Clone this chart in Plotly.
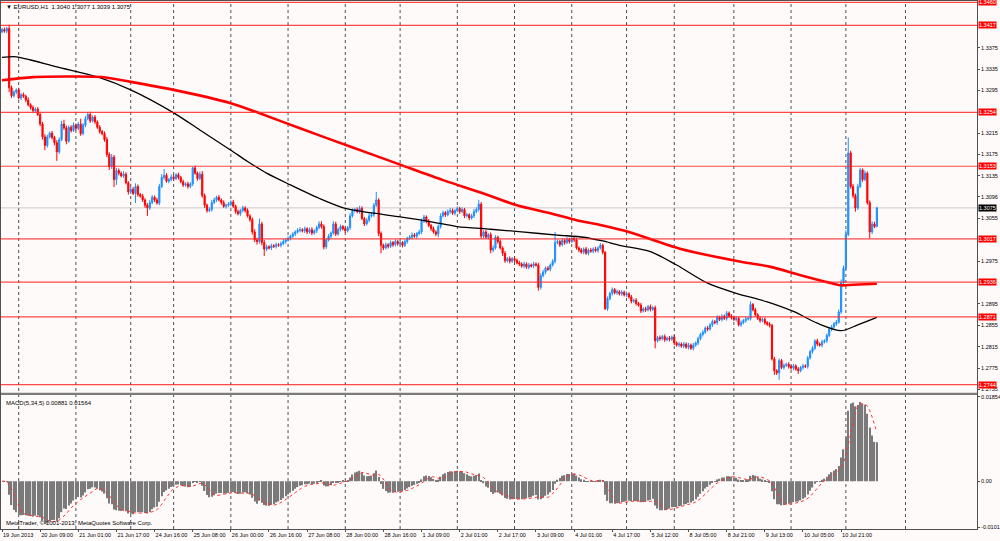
import plotly.graph_objects as go
from plotly.subplots import make_subplots

# EURUSD H1, 19 Jun - 11 Jul 2013. Prices in pips above 1.0000 (3075 -> 1.3075)
first_open = 3405
closes = [
    3409, 3406, 3411, 3300, 3285, 3292, 3296, 3281, 3287, 3284, 3277, 3268, 3263, 3257, 3260, 3250,
    3232, 3208, 3192, 3208, 3215, 3207, 3197, 3180, 3203, 3232, 3225, 3200, 3226, 3220, 3230, 3224,
    3232, 3214, 3230, 3242, 3250, 3238, 3245, 3236, 3226, 3218, 3214, 3203, 3175, 3152, 3170, 3128,
    3145, 3140, 3135, 3138, 3122, 3105, 3110, 3102, 3115, 3100, 3097, 3090, 3080, 3075, 3085, 3095,
    3090, 3084, 3115, 3132, 3136, 3125, 3128, 3133, 3130, 3137, 3132, 3124, 3118, 3120, 3115, 3120,
    3150, 3140, 3130, 3138, 3098, 3080, 3070, 3072, 3085, 3090, 3095, 3090, 3085, 3078, 3080, 3082,
    3086, 3078, 3068, 3064, 3070, 3075, 3070, 3060, 3053, 3030, 3015, 3012, 3045, 3010, 2998, 3002,
    3000, 3004, 3003, 3006, 3005, 3008, 3012, 3015, 3018, 3022, 3026, 3030, 3033, 3034, 3032, 3036,
    3030, 3034, 3028, 3032, 3038, 3045, 3040, 3002, 3015, 3022, 3028, 3045, 3026, 3035, 3040, 3036,
    3032, 3038, 3060, 3070, 3072, 3068, 3074, 3055, 3045, 3052, 3060, 3062, 3080, 3090, 3027, 3005,
    3000, 3006, 3003, 3010, 3006, 3012, 3008, 3010, 3005, 3012, 3018, 3020, 3024, 3022, 3027, 3030,
    3050, 3058, 3050, 3042, 3036, 3030, 3026, 3040, 3060, 3066, 3062, 3068, 3070, 3065, 3070, 3074,
    3068, 3072, 3060, 3062, 3056, 3060, 3068, 3072, 3082, 3022, 3030, 3020, 3025, 2996, 3000, 3020,
    3012, 3000, 2990, 2976, 2980, 2975, 2980, 2977, 2972, 2970, 2966, 2970, 2964, 2968, 2966, 2970,
    2968, 2926, 2948, 2955, 2962, 2960, 2968, 2975, 3010, 3012, 3006, 3014, 3010, 3016, 3012, 3018,
    3015, 3000, 2996, 2992, 2998, 2990, 2996, 2994, 2998, 2995, 3000, 3005, 2992, 2886, 2905, 2915,
    2922, 2916, 2918, 2914, 2917, 2912, 2914, 2908, 2900, 2902, 2896, 2893, 2882, 2886, 2884, 2890,
    2885, 2888, 2826, 2832, 2830, 2834, 2828, 2831, 2829, 2833, 2822, 2818, 2820, 2816, 2820, 2814,
    2818, 2812, 2818, 2822, 2830, 2838, 2842, 2850, 2848, 2856, 2862, 2860, 2870, 2866, 2872, 2868,
    2878, 2872, 2870, 2866, 2868, 2856, 2860, 2864, 2867, 2868, 2894, 2884, 2875, 2868, 2864, 2866,
    2860, 2857, 2855, 2792, 2770, 2766, 2789, 2776, 2780, 2782, 2778, 2775, 2779, 2773, 2770, 2776,
    2779, 2778, 2794, 2806, 2812, 2826, 2820, 2818, 2824, 2826, 2836, 2848, 2852, 2858, 2861, 2880,
    2935, 2962, 3025, 3178, 3115, 3098, 3075, 3115, 3146, 3128, 3140, 3085, 3030, 3045, 3040, 3075,
]
# wick length above / below the candle body, pips
wick_up = [
    3, 4, 3, 7, 4, 3, 3, 4, 3, 4, 3, 5, 3, 4, 3, 4,
    3, 4, 5, 4, 3, 4, 3, 5, 4, 6, 8, 4, 3, 4, 5, 3,
    4, 10, 4, 5, 4, 5, 3, 4, 3, 4, 3, 4, 5, 4, 6, 4,
    5, 4, 3, 6, 4, 3, 5, 4, 6, 4, 3, 4, 3, 4, 5, 4,
    3, 4, 5, 6, 12, 4, 3, 5, 4, 3, 4, 3, 4, 3, 4, 3,
    2, 4, 3, 5, 6, 4, 3, 4, 5, 4, 3, 4, 3, 4, 3, 4,
    3, 4, 3, 4, 3, 4, 3, 4, 3, 4, 5, 4, 10, 4, 5, 4,
    3, 4, 3, 4, 3, 4, 5, 3, 4, 3, 4, 3, 4, 5, 3, 4,
    3, 4, 5, 3, 4, 5, 5, 4, 3, 4, 3, 5, 4, 3, 4, 3,
    4, 3, 5, 4, 3, 4, 5, 4, 3, 4, 5, 4, 4, 15, 3, 4,
    3, 4, 3, 4, 3, 4, 3, 4, 3, 4, 3, 4, 5, 4, 3, 4,
    5, 4, 3, 4, 3, 4, 3, 4, 5, 4, 3, 4, 5, 4, 3, 4,
    3, 4, 3, 4, 3, 4, 5, 4, 8, 4, 3, 4, 3, 4, 5, 4,
    3, 4, 3, 4, 3, 4, 3, 4, 3, 4, 3, 4, 3, 4, 3, 4,
    3, 4, 5, 4, 3, 4, 3, 4, 20, 4, 3, 4, 3, 4, 3, 4,
    3, 4, 3, 4, 3, 4, 3, 4, 3, 4, 3, 4, 3, 2, 4, 3,
    4, 3, 4, 3, 4, 3, 4, 3, 4, 3, 4, 3, 4, 3, 4, 3,
    4, 3, 4, 3, 4, 3, 4, 3, 4, 3, 4, 3, 4, 3, 4, 3,
    4, 3, 4, 3, 4, 3, 4, 3, 4, 3, 4, 3, 4, 3, 4, 3,
    4, 3, 4, 3, 4, 3, 4, 3, 4, 3, 6, 3, 4, 3, 4, 3,
    4, 3, 4, 3, 4, 3, 4, 3, 4, 3, 4, 3, 4, 3, 4, 3,
    4, 3, 4, 3, 4, 3, 4, 3, 4, 3, 4, 3, 4, 3, 4, 5,
    6, 5, 8, 29, 4, 5, 4, 5, 4, 3, 5, 3, 4, 5, 4, 2,
]
wick_dn = [
    3, 3, 4, 8, 4, 3, 4, 3, 4, 3, 4, 3, 4, 3, 4, 3,
    4, 5, 9, 4, 3, 4, 5, 17, 4, 3, 4, 6, 3, 4, 3, 4,
    3, 4, 3, 4, 3, 4, 3, 4, 3, 4, 3, 4, 5, 6, 4, 14,
    10, 4, 3, 4, 3, 5, 4, 3, 18, 4, 3, 4, 5, 15, 4, 3,
    4, 3, 4, 3, 4, 3, 4, 3, 4, 3, 4, 3, 4, 3, 4, 3,
    4, 3, 4, 3, 4, 5, 4, 3, 4, 3, 4, 3, 4, 3, 4, 3,
    4, 3, 4, 3, 4, 3, 4, 3, 4, 5, 4, 6, 4, 5, 13, 4,
    3, 4, 3, 4, 3, 4, 3, 4, 3, 4, 3, 4, 3, 4, 3, 4,
    4, 3, 4, 3, 4, 3, 4, 5, 4, 3, 4, 3, 4, 3, 4, 3,
    4, 3, 4, 3, 4, 3, 4, 3, 4, 3, 4, 3, 4, 3, 5, 15,
    4, 3, 4, 3, 4, 3, 4, 3, 4, 3, 4, 3, 4, 3, 4, 3,
    4, 3, 4, 3, 4, 3, 4, 6, 4, 3, 4, 3, 4, 3, 4, 3,
    4, 3, 4, 3, 4, 3, 4, 3, 4, 5, 4, 3, 4, 6, 4, 3,
    4, 3, 5, 4, 3, 4, 3, 4, 3, 4, 3, 4, 3, 4, 3, 4,
    3, 6, 4, 3, 4, 3, 4, 3, 4, 3, 4, 3, 4, 3, 4, 3,
    4, 3, 4, 3, 4, 3, 4, 3, 4, 3, 4, 3, 4, 2, 4, 3,
    4, 3, 4, 3, 4, 3, 4, 3, 4, 3, 4, 3, 4, 3, 4, 3,
    4, 3, 14, 3, 4, 3, 4, 3, 4, 3, 4, 3, 4, 3, 4, 3,
    4, 3, 4, 3, 4, 3, 4, 3, 4, 3, 4, 3, 4, 3, 4, 3,
    4, 3, 4, 3, 4, 3, 4, 3, 4, 3, 4, 3, 4, 3, 4, 3,
    4, 3, 4, 3, 8, 4, 13, 3, 4, 3, 4, 3, 4, 3, 6, 3,
    4, 3, 4, 3, 4, 3, 4, 3, 4, 3, 4, 3, 4, 3, 4, 3,
    4, 3, 4, 3, 4, 5, 7, 4, 3, 4, 3, 4, 12, 4, 3, 1,
]

# moving averages (bar index, pips)
ma_black_bar = [0, 6, 12, 23, 41, 54, 72, 83, 96, 103, 111, 121, 133, 144, 156, 167, 180, 191,
                205, 218, 233, 244, 252, 259, 272, 283, 296, 308, 321, 332, 342, 352, 359, 367]
ma_black = [3357, 3358, 3352, 3339, 3319, 3296, 3253, 3221, 3183, 3162, 3140, 3118, 3093, 3074,
            3065, 3058, 3049, 3040, 3035, 3030, 3024, 3020, 3013, 3005, 2993, 2968, 2934, 2915,
            2899, 2881, 2859, 2845, 2856, 2870]
ma_red_bar = [0, 13, 27, 42, 54, 72, 96, 107, 125, 146, 167, 185, 202, 216, 230, 241, 251, 263,
              284, 310, 322, 335, 347, 352, 357, 367]
ma_red = [3314, 3320, 3321, 3320, 3311, 3296, 3271, 3254, 3224, 3190, 3156, 3127, 3102, 3080,
          3065, 3052, 3043, 3030, 2999, 2974, 2965, 2949, 2935, 2930, 2931, 2933]

levels = [1.3460, 1.3417, 1.3254, 1.3153, 1.3017, 1.2936, 1.2871, 1.2744]

price_ticks = [1.3375, 1.3335, 1.3295, 1.3215, 1.3175, 1.3135, 1.3096, 1.3055,
               1.2975, 1.2895, 1.2855, 1.2815, 1.2775, 1.2735]

time_labels = ["19 Jun 2013", "20 Jun 09:00", "21 Jun 01:00", "21 Jun 17:00", "24 Jun 16:00",
               "25 Jun 08:00", "26 Jun 00:00", "26 Jun 16:00", "27 Jun 08:00", "28 Jun 00:00",
               "28 Jun 16:00", "1 Jul 09:00", "2 Jul 01:00", "2 Jul 17:00", "3 Jul 09:00",
               "4 Jul 01:00", "4 Jul 17:00", "5 Jul 12:00", "8 Jul 05:00", "8 Jul 21:00",
               "9 Jul 13:00", "10 Jul 05:00", "10 Jul 21:00"]
label_step = 16
day_start_bars = [7, 31, 54, 72, 96, 120, 144, 167, 191, 215, 239, 262, 282, 307, 331, 354, 379]


def px(v):
    return 1 + v / 10000.0


bars = list(range(len(closes)))
opens = [first_open] + closes[:-1]
highs = [max(o, c) + w for o, c, w in zip(opens, closes, wick_up)]
lows = [min(o, c) - w for o, c, w in zip(opens, closes, wick_dn)]

# MACD(5,34,5) from the closes, signal = SMA of MACD as in MetaTrader
def ema(vals, n):
    k = 2.0 / (n + 1)
    out = [vals[0]]
    for v in vals[1:]:
        out.append(out[-1] + k * (v - out[-1]))
    return out

cl = [px(c) for c in closes]
macd = [a - b for a, b in zip(ema(cl, 5), ema(cl, 34))]
signal = [sum(macd[max(0, i - 4):i + 1]) / len(macd[max(0, i - 4):i + 1]) for i in range(len(macd))]

BG = "#fffafa"
FONT = "Liberation Sans"
FS = 5.5

fig = make_subplots(rows=2, cols=1, shared_xaxes=True)

fig.add_trace(go.Candlestick(
    x=bars, open=[px(v) for v in opens], high=[px(v) for v in highs],
    low=[px(v) for v in lows], close=cl,
    increasing=dict(line=dict(color="#1e90ff", width=1), fillcolor="#1e90ff"),
    decreasing=dict(line=dict(color="#ff0000", width=1), fillcolor="#ff0000"),
    whiskerwidth=0, showlegend=False, hoverinfo="skip"), row=1, col=1)

fig.add_trace(go.Scatter(x=ma_black_bar, y=[px(v) for v in ma_black], mode="lines",
                         line=dict(color="#000000", width=1.3, shape="spline", smoothing=0.8),
                         showlegend=False, hoverinfo="skip"), row=1, col=1)
fig.add_trace(go.Scatter(x=ma_red_bar, y=[px(v) for v in ma_red], mode="lines",
                         line=dict(color="#ff0000", width=2.6, shape="spline", smoothing=0.8),
                         showlegend=False, hoverinfo="skip"), row=1, col=1)

fig.add_trace(go.Bar(x=bars, y=macd, marker_color="#7a7a7a", marker_line_width=0, width=0.55,
                     showlegend=False, hoverinfo="skip"), row=2, col=1)
fig.add_trace(go.Scatter(x=bars, y=signal, mode="lines",
                         line=dict(color="#ff3030", width=1, dash="dot"),
                         showlegend=False, hoverinfo="skip"), row=2, col=1)

shapes = []
for d in day_start_bars:
    shapes.append(dict(type="line", xref="x", yref="paper", x0=d, x1=d, y0=0, y1=1,
                       line=dict(color="#505050", width=1, dash="dot"), layer="below"))
for lv in levels:
    shapes.append(dict(type="line", xref="paper", yref="y", x0=0, x1=1, y0=lv, y1=lv,
                       line=dict(color="rgba(255,40,40,0.85)", width=1.2)))
last = px(closes[-1])
shapes.append(dict(type="line", xref="paper", yref="y", x0=0, x1=1, y0=last, y1=last,
                   line=dict(color="#c8c8c8", width=1), layer="below"))
# window separator
shapes.append(dict(type="rect", xref="paper", yref="paper", x0=0, x1=1, y0=0.2538, y1=0.2580,
                   fillcolor="#7c7c7c", line=dict(width=0)))

annotations = []
for lv in levels:
    annotations.append(dict(xref="paper", yref="y", x=1, y=lv, xanchor="left", yanchor="middle",
                            xshift=1, text="%.4f" % lv, showarrow=False, bgcolor="#ff0000",
                            borderpad=0, font=dict(family=FONT, size=FS, color="white")))
annotations.append(dict(xref="paper", yref="y", x=1, y=last, xanchor="left", yanchor="middle",
                        xshift=1, text="%.4f" % last, showarrow=False, bgcolor="#000000",
                        borderpad=0, font=dict(family=FONT, size=FS, color="white")))
annotations.append(dict(xref="paper", yref="paper", x=0.003, y=0.9886, xanchor="left",
                        yanchor="middle", showarrow=False,
                        text="▼ EURUSD,H1  1.3040 1.3077 1.3039 1.3075",
                        font=dict(family=FONT, size=6, color="#000000")))
annotations.append(dict(xref="paper", yref="paper", x=0.003, y=0.2386, xanchor="left",
                        yanchor="middle", showarrow=False,
                        text="MACD(5,34,5) 0.00881 0.01564",
                        font=dict(family=FONT, size=6, color="#000000")))
annotations.append(dict(xref="paper", yref="paper", x=0.003, y=0.0114, xanchor="left",
                        yanchor="middle", showarrow=False,
                        text="MetaTrader, © 2001-2013, MetaQuotes Software Corp.",
                        font=dict(family=FONT, size=6, color="#000000")))

fig.update_layout(
    width=1000, height=541,
    margin=dict(l=1, r=23, t=1, b=12, autoexpand=False),
    paper_bgcolor=BG, plot_bgcolor=BG,
    font=dict(family=FONT, size=FS, color="#000000"),
    bargap=0.3,
    shapes=shapes, annotations=annotations,
    showlegend=False,
)

axis_line = dict(showline=True, linecolor="#505050", linewidth=1, mirror=True,
                 showgrid=False, zeroline=False, automargin=False)
fig.update_xaxes(range=[-0.42, 409.0], rangeslider_visible=False, **axis_line)
fig.update_xaxes(showticklabels=False, ticks="", row=1, col=1)
fig.update_xaxes(tickvals=[i * label_step for i in range(len(time_labels))], ticktext=time_labels,
                 ticks="outside", ticklen=2, tickcolor="#505050", tickangle=0,
                 ticklabelposition="outside right", tickfont=dict(family=FONT, size=FS),
                 row=2, col=1)

fig.update_yaxes(domain=[0.2576, 1.0], range=[1.27283, 1.34625], side="right",
                 tickvals=price_ticks, ticktext=["%.4f" % t for t in price_ticks],
                 ticks="outside", ticklen=2, tickcolor="#505050",
                 tickfont=dict(family=FONT, size=FS), row=1, col=1, **axis_line)
fig.update_yaxes(domain=[0.0, 0.2538], range=[-0.01054, 0.01898], side="right",
                 tickvals=[0.01854, 0.0, -0.0101], ticktext=["0.01854", "0.00", "-0.0101"],
                 ticks="outside", ticklen=2, tickcolor="#505050",
                 tickfont=dict(family=FONT, size=FS), row=2, col=1, **axis_line)

# the page body has a default margin; remove it so the chart sits at the window's corner
fig.write_html("out.html", config={"displayModeBar": False},
               post_script="document.body.style.margin='0px';")
